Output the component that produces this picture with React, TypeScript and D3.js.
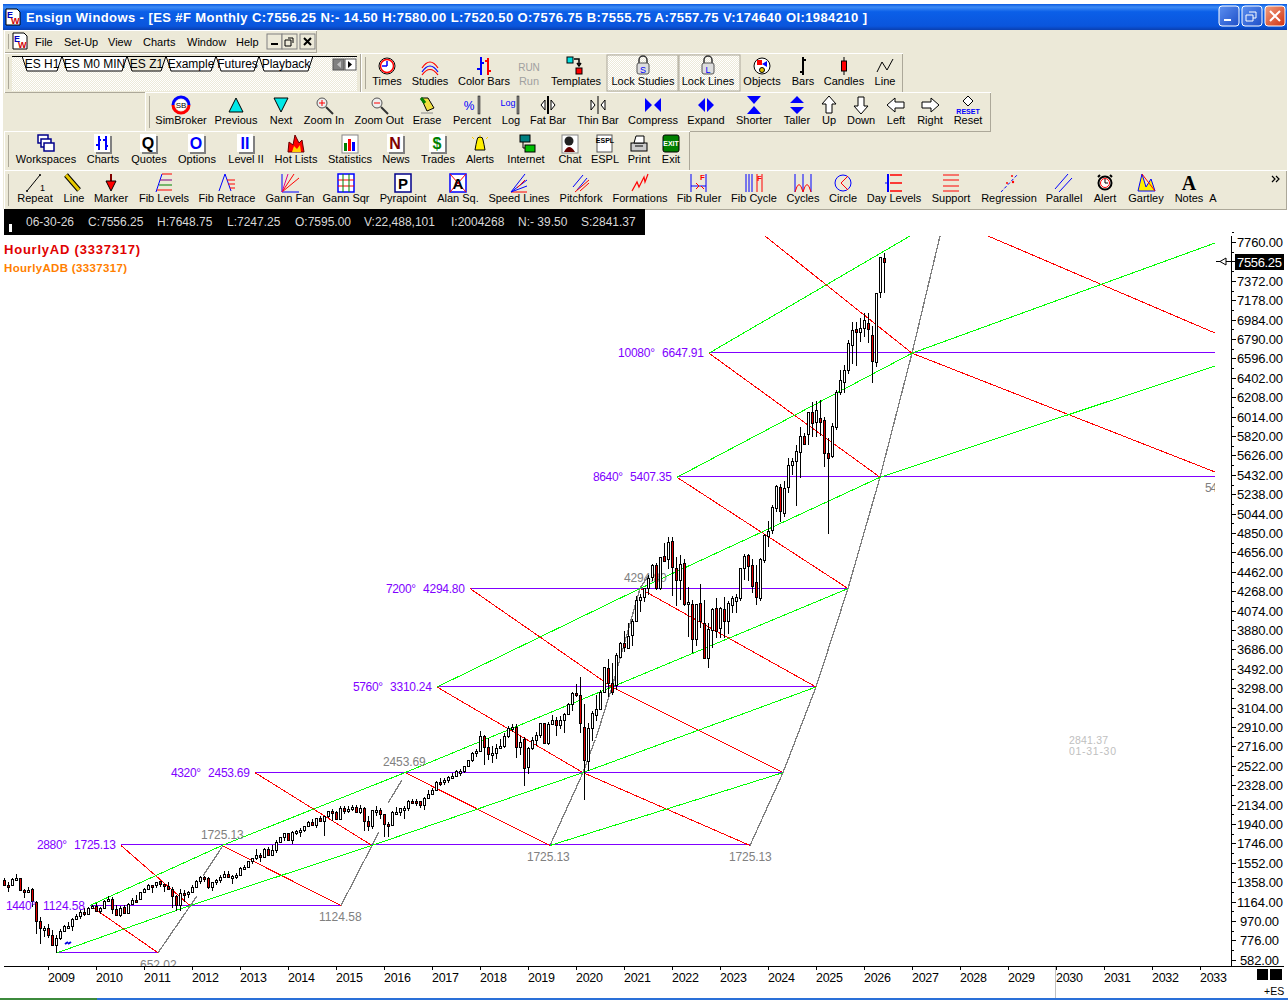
import * as d3 from "d3";
import React from "react";

// monthly bars [open, high, low, close], first bar is Feb 2008
const barStartMonth = -11; // months from Jan 2009
const monthlyBars: number[][] = [
    // 2008
    [1378, 1396, 1316, 1330], [1330, 1359, 1257, 1322], [1326, 1397, 1323, 1385], [1385, 1440, 1373, 1400],
    [1400, 1404, 1272, 1280], [1280, 1293, 1200, 1267], [1269, 1313, 1247, 1282], [1287, 1303, 1107, 1166],
    [1164, 1167, 839, 968], [968, 1007, 741, 896], [888, 917, 815, 903],
    // 2009
    [903, 944, 805, 825], [825, 875, 735, 735], [730, 832, 652, 797], [797, 888, 783, 872], [872, 930, 866, 919], [919, 956, 888, 919],
    [919, 996, 869, 987], [987, 1039, 978, 1020], [1020, 1080, 992, 1057], [1057, 1101, 1020, 1036], [1036, 1113, 1029, 1095], [1095, 1130, 1086, 1115],
    // 2010
    [1116, 1150, 1071, 1073], [1073, 1112, 1044, 1104], [1105, 1180, 1101, 1169], [1171, 1219, 1157, 1186], [1188, 1206, 1040, 1089], [1087, 1131, 1028, 1030],
    [1031, 1120, 1010, 1101], [1107, 1129, 1039, 1049], [1049, 1148, 1048, 1141], [1143, 1196, 1131, 1183], [1185, 1227, 1173, 1180], [1186, 1262, 1186, 1257],
    // 2011
    [1257, 1302, 1257, 1286], [1289, 1344, 1289, 1327], [1328, 1332, 1249, 1325], [1329, 1364, 1295, 1363], [1365, 1370, 1311, 1345], [1345, 1345, 1258, 1320],
    [1320, 1356, 1282, 1292], [1292, 1307, 1101, 1218], [1219, 1229, 1075, 1131], [1131, 1292, 1075, 1253], [1251, 1277, 1158, 1246], [1246, 1269, 1202, 1258],
    // 2012
    [1258, 1333, 1258, 1312], [1312, 1378, 1312, 1365], [1366, 1420, 1340, 1408], [1408, 1422, 1358, 1398], [1398, 1415, 1291, 1310], [1310, 1363, 1267, 1362],
    [1362, 1392, 1326, 1379], [1379, 1427, 1355, 1406], [1406, 1474, 1397, 1441], [1441, 1471, 1403, 1412], [1412, 1434, 1343, 1416], [1416, 1448, 1385, 1426],
    // 2013
    [1426, 1510, 1426, 1498], [1498, 1525, 1485, 1515], [1515, 1570, 1501, 1569], [1569, 1597, 1536, 1598], [1597, 1687, 1581, 1631], [1631, 1654, 1560, 1606],
    [1606, 1698, 1605, 1686], [1686, 1710, 1627, 1633], [1633, 1730, 1633, 1682], [1682, 1776, 1646, 1757], [1757, 1813, 1746, 1806], [1806, 1849, 1768, 1848],
    // 2014
    [1848, 1850, 1770, 1783], [1783, 1867, 1737, 1859], [1859, 1884, 1834, 1872], [1872, 1897, 1814, 1884], [1884, 1924, 1862, 1924], [1924, 1968, 1915, 1960],
    [1960, 1991, 1930, 1931], [1931, 2005, 1905, 2003], [2003, 2019, 1965, 1972], [1972, 2018, 1821, 2018], [2018, 2075, 2001, 2067], [2067, 2093, 1972, 2058],
    // 2015
    [2058, 2072, 1988, 1994], [1994, 2119, 1980, 2104], [2104, 2117, 2039, 2067], [2067, 2125, 2048, 2085], [2085, 2134, 2067, 2107], [2107, 2129, 2056, 2063],
    [2063, 2132, 2044, 2103], [2103, 2112, 1867, 1972], [1972, 2020, 1871, 1920], [1920, 2079, 1893, 2079], [2079, 2116, 2019, 2080], [2080, 2104, 1993, 2043],
    // 2016
    [2043, 2043, 1812, 1940], [1940, 1962, 1810, 1932], [1932, 2072, 1932, 2059], [2059, 2111, 2033, 2065], [2065, 2103, 2025, 2096], [2096, 2120, 1991, 2098],
    [2098, 2177, 2074, 2174], [2174, 2193, 2147, 2170], [2170, 2187, 2119, 2168], [2168, 2169, 2097, 2126], [2126, 2214, 2084, 2198], [2198, 2277, 2193, 2238],
    // 2017
    [2238, 2300, 2245, 2278], [2278, 2367, 2271, 2363], [2363, 2401, 2322, 2362], [2362, 2398, 2328, 2384], [2384, 2418, 2352, 2411], [2411, 2453, 2405, 2423],
    [2423, 2484, 2407, 2470], [2470, 2490, 2417, 2471], [2471, 2519, 2446, 2519], [2519, 2582, 2520, 2575], [2575, 2657, 2557, 2647], [2647, 2694, 2605, 2673],
    // 2018
    [2673, 2872, 2673, 2823], [2823, 2835, 2532, 2713], [2713, 2801, 2585, 2640], [2640, 2717, 2553, 2648], [2648, 2742, 2594, 2705], [2705, 2791, 2698, 2718],
    [2718, 2848, 2698, 2816], [2816, 2916, 2796, 2901], [2901, 2940, 2864, 2913], [2913, 2940, 2603, 2711], [2711, 2815, 2631, 2760], [2790, 2813, 2323, 2503],
    // 2019
    [2506, 2708, 2443, 2704], [2704, 2813, 2681, 2784], [2784, 2860, 2722, 2834], [2834, 2949, 2800, 2945], [2945, 2954, 2750, 2752], [2752, 2964, 2729, 2941],
    [2941, 3027, 2952, 2980], [2980, 3013, 2822, 2926], [2926, 3021, 2891, 2976], [2976, 3050, 2855, 3037], [3037, 3154, 3037, 3140], [3140, 3260, 3070, 3250],
    // 2020
    [3253, 3337, 3214, 3230], [3230, 3413, 2855, 2953], [2910, 3136, 2180, 2580], [2570, 2954, 2470, 2900], [2900, 3068, 2766, 3050], [3030, 3233, 2965, 3095],
    [3090, 3279, 3085, 3263], [3263, 3514, 3260, 3513], [3503, 3588, 3209, 3350], [3350, 3550, 3233, 3263], [3330, 3646, 3279, 3630], [3613, 3760, 3613, 3753],
    // 2021
    [3753, 3870, 3662, 3715], [3700, 3950, 3700, 3820], [3830, 3994, 3723, 3973], [3970, 4218, 3970, 4180], [4180, 4238, 4056, 4210], [4207, 4302, 4164, 4297],
    [4305, 4429, 4233, 4400], [4410, 4545, 4367, 4530], [4530, 4546, 4280, 4300], [4300, 4608, 4278, 4610], [4620, 4750, 4560, 4570], [4590, 4808, 4495, 4763],
    // 2022
    [4770, 4813, 4222, 4510], [4500, 4613, 4120, 4380], [4380, 4630, 4180, 4540], [4550, 4593, 4125, 4140], [4140, 4307, 3810, 4160], [4138, 4180, 3650, 3790],
    [3790, 4140, 3721, 4137], [4150, 4340, 3900, 3973], [3953, 4180, 3600, 3603], [3600, 3950, 3503, 3890], [3880, 4100, 3704, 4090], [4100, 4200, 3800, 3873],
    // 2023
    [3900, 4110, 3800, 4100], [4090, 4213, 3800, 3973], [3973, 4170, 3840, 4153], [4130, 4220, 4048, 4200], [4175, 4240, 4050, 4215], [4200, 4500, 4166, 4503],
    [4503, 4640, 4385, 4623], [4630, 4640, 4370, 4523], [4530, 4590, 4250, 4323], [4360, 4530, 4130, 4213], [4203, 4600, 4167, 4590], [4580, 4840, 4546, 4830],
    // 2024
    [4823, 4970, 4710, 4873], [4880, 5130, 4845, 5113], [5103, 5330, 5057, 5320], [5313, 5340, 4963, 5073], [5053, 5370, 5012, 5300], [5310, 5600, 5250, 5530],
    [5530, 5600, 5430, 5570], [5573, 5730, 5120, 5673], [5663, 5913, 5400, 5820], [5820, 5850, 5730, 5740], [5840, 6060, 5730, 6060], [6060, 6163, 5813, 5950],
    // 2025
    [5960, 6170, 5813, 6080], [6000, 6180, 5820, 5965], [5980, 6013, 5513, 5650], [5650, 5800, 4840, 5600], [5620, 5950, 5600, 5923], [5910, 6280, 5880, 6263],
    [6260, 6480, 6230, 6380], [6363, 6530, 6250, 6480], [6480, 6780, 6440, 6750], [6730, 6963, 6540, 6880], [6890, 6963, 6520, 6865], [6860, 7000, 6760, 6900],
    // 2026
    [6900, 7050, 6813, 6980], [6950, 7050, 6753, 6893], [6830, 6920, 6353, 6573], [6563, 7253, 6510, 7253], [7260, 7610, 7203, 7610], [7595, 7648.75, 7247.25, 7556.25],
];

// price axis labels and year axis labels
const priceTicks = d3.range(582, 7761, 194);
const yearTicks = d3.range(2009, 2034);

// gann square levels, [degree text, price, first month, last month]
const gannDegrees = ["", "1440°", "2880°", "4320°", "5760°", "7200°", "8640°", "10080°"];
const gannPrices = [652.02, 1124.58, 1725.13, 2453.69, 3310.24, 4294.8, 5407.35, 6647.91];
const gannStartMonths = [2.25, 10.5, 18.25, 51.75, 97.25, 105.5, 157.25, 165.25];
const gannEndMonths = [27.5, 73.25, 175.5, 183.75, 192, 200, 291.75, 291.75];

// angle lines, each one as [month, price] vertices
const greenLines: number[][][] = [
    [[2.25, 652], [35.5, 1124.6], [81, 1725.1], [133.75, 2453.7], [192, 3310.2]],
    [[10.5, 1124.6], [43.5, 1725.1], [89.25, 2453.7], [141, 3310.2], [200, 4294.8]],
    [[97.25, 3310.2], [148, 4294.8], [208, 5407.3], [291.75, 6520]],
    [[125.5, 1725.1], [183.75, 2453.7]],
    [[157.25, 5407.3], [216, 6647.9], [291.75, 7750]],
    [[165.25, 6647.9], [215.5, 7820]],
];
const redLines: number[][][] = [
    [[10.5, 1124.6], [27.5, 652]],
    [[18.25, 1725.1], [35.5, 1124.6]],
    [[43.5, 1725.1], [73.25, 1124.6]],
    [[51.75, 2453.7], [81, 1725.1]],
    [[89.25, 2453.7], [125.5, 1725.1]],
    [[97.25, 3310.2], [133.75, 2453.7]],
    [[133.75, 2453.7], [175.5, 1725.1]],
    [[141, 3310.2], [183.75, 2453.7]],
    [[105.5, 4294.8], [141, 3310.2]],
    [[148, 4294.8], [192, 3310.2]],
    [[157.25, 5407.3], [200, 4294.8]],
    [[165.25, 6647.9], [208, 5407.3]],
    [[179.25, 7820], [216, 6647.9]],
    [[216, 6647.9], [291.75, 5460]],
    [[235, 7820], [291.75, 6850]],
];
const greyLines: number[][][] = [
    [[27.5, 652], [37.25, 1220]],
    [[38.75, 1420], [43.75, 1725]],
    [[73.25, 1124.6], [81, 1725.1], [82.75, 1860]],
    [[85, 2150], [88.5, 2380]],
    [[125.5, 1725.1], [133.75, 2453.7], [136.75, 2780]],
    [[137, 2800], [141, 3310.2], [148, 4294.8], [150, 4420]],
    [[175.5, 1725.1], [183.75, 2453.7], [192, 3310.2], [200, 4294.8], [208, 5407.3], [216, 6647.9], [223, 7820]],
];

// grey notes on the chart, [text, month, price]
const greyLabels: [string, number, number][] = [
    ["652.02", 23, 490], ["1124.58", 67.75, 970], ["1725.13", 38.25, 1790], ["2453.69", 83.75, 2520],
    ["4294.80", 144, 4360], ["1725.13", 119.75, 1570], ["1725.13", 170.25, 1570], ["54", 289.25, 5260],
];

const infoBar: [string, number][] = [
    ["06-30-26", 26], ["C:7556.25", 88], ["H:7648.75", 157], ["L:7247.25", 227], ["O:7595.00", 295],
    ["V:22,488,101", 364], ["I:2004268", 451], ["N:- 39.50", 518], ["S:2841.37", 581],
];

const menuItems: [string, number][] = [["File", 35], ["Set-Up", 64], ["View", 108], ["Charts", 143], ["Window", 187], ["Help", 236]];
const tabs: [string, number, number][] = [
    ["ES H1", 22, 62], ["ES M0 MIN", 62, 127], ["ES Z1", 127, 166], ["Example", 166, 216], ["Futures", 216, 259], ["Playback", 259, 313],
];

const toolbarRows: { cy: number; labelY: number; items: [string, number, string][] }[] = [
    { cy: 66, labelY: 85, items: [["Times", 387, "times"], ["Studies", 430, "studies"], ["Color Bars", 484, "colorbars"], ["Run", 529, "run"], ["Templates", 576, "templates"], ["Lock Studies", 643, "lockS"], ["Lock Lines", 708, "lockL"], ["Objects", 762, "objects"], ["Bars", 803, "bars"], ["Candles", 844, "candles"], ["Line", 885, "line"]] },
    { cy: 105, labelY: 124, items: [["SimBroker", 181, "sim"], ["Previous", 236, "prev"], ["Next", 281, "next"], ["Zoom In", 324, "zoomIn"], ["Zoom Out", 379, "zoomOut"], ["Erase", 427, "erase"], ["Percent", 472, "percent"], ["Log", 511, "log"], ["Fat Bar", 548, "fat"], ["Thin Bar", 598, "thin"], ["Compress", 653, "compress"], ["Expand", 706, "expand"], ["Shorter", 754, "shorter"], ["Taller", 797, "taller"], ["Up", 829, "up"], ["Down", 861, "down"], ["Left", 896, "left"], ["Right", 930, "right"], ["Reset", 968, "reset"]] },
    { cy: 144, labelY: 163, items: [["Workspaces", 46, "work"], ["Charts", 103, "charts"], ["Quotes", 149, "quotes"], ["Options", 197, "options"], ["Level II", 246, "level2"], ["Hot Lists", 296, "hot"], ["Statistics", 350, "stats"], ["News", 396, "news"], ["Trades", 438, "trades"], ["Alerts", 480, "alerts"], ["Internet", 526, "internet"], ["Chat", 570, "chat"], ["ESPL", 605, "espl"], ["Print", 639, "print"], ["Exit", 671, "exit"]] },
    { cy: 183, labelY: 202, items: [["Repeat", 35, "repeat"], ["Line", 74, "pencil"], ["Marker", 111, "marker"], ["Fib Levels", 164, "fibLevels"], ["Fib Retrace", 227, "fibRetrace"], ["Gann Fan", 290, "gannFan"], ["Gann Sqr", 346, "gannSqr"], ["Pyrapoint", 403, "pyra"], ["Alan Sq.", 458, "alan"], ["Speed Lines", 519, "speed"], ["Pitchfork", 581, "pitch"], ["Formations", 640, "forms"], ["Fib Ruler", 699, "fibRuler"], ["Fib Cycle", 754, "fibCycle"], ["Cycles", 803, "cycles"], ["Circle", 843, "circle"], ["Day Levels", 894, "dayLevels"], ["Support", 951, "support"], ["Regression", 1009, "regress"], ["Parallel", 1064, "parallel"], ["Alert", 1105, "clock"], ["Gartley", 1146, "gartley"], ["Notes", 1189, "notes"]] },
];

const UI = "'Liberation Sans', sans-serif";
const FACE = "#ECE9D8";
const BLUE = "#0000FF";
const RED = "#FF0000";

const x = d3.scaleLinear().domain([0, 1]).range([48, 52]);
const y = d3.scaleLinear().domain([582, 7760]).range([959.8, 242]);
const pathOf = d3.line<number[]>().x((d) => x(d[0])).y((d) => y(d[1]));

function letterBox(ch: string, color: string) {
    return (
        <g>
            <rect x={-7} y={-8} width={16} height={18} fill="#808080" />
            <rect x={-9} y={-10} width={16} height={18} fill="#fff" />
            <text x={-1} y={5} textAnchor="middle" fontFamily={UI} fontWeight="bold" fontSize={16} fill={color}>{ch}</text>
        </g>
    );
}

function arrow(rot: number) {
    return <path d="M0-9 L7-1 L3-1 L3 8 L-3 8 L-3-1 L-7-1 Z" transform={`rotate(${rot})`} fill="#fff" stroke="#000" />;
}

function lock(ch: string) {
    return (
        <g>
            <path d="M-4-3 V-6 A4 4 0 0 1 4-6 V-3" fill="none" stroke="#333" strokeWidth={1.5} />
            <rect x={-6} y={-3} width={12} height={11} rx={2} fill="#ddd" stroke="#555" />
            <text y={7} textAnchor="middle" fontFamily={UI} fontSize={9} fill={BLUE}>{ch}</text>
        </g>
    );
}

const icons: Record<string, () => React.ReactNode> = {
    times: () => <g><circle r={8} fill="#fff" stroke="#000" /><circle r={6.5} fill="none" stroke={RED} strokeWidth={1.5} /><path d="M0 0 V-5 M0 0 H-5" stroke={BLUE} strokeWidth={1.5} /></g>,
    studies: () => <g fill="none" strokeWidth={1.2}><path d="M-8 2 Q0-10 8 2" stroke={RED} /><path d="M-8 6 Q0-6 8 6" stroke={BLUE} /><path d="M-8 9 Q0-2 8 9" stroke={RED} /></g>,
    colorbars: () => <g strokeWidth={2}><path d="M-3-9 V9 M-7 3 H-3 M-3-3 H0" stroke={BLUE} /><path d="M4-8 V9 M1-5 H4 M4 5 H7" stroke={RED} /></g>,
    run: () => <text y={5} textAnchor="middle" fontFamily={UI} fontSize={10} fill="#a0a0a0">RUN</text>,
    templates: () => <g><rect x={-9} y={-9} width={6} height={6} fill="#00E0E0" stroke="#000" /><path d="M-2-7 H3 V-2 M1-3 L3 0 L5-3" fill="none" stroke="#000" strokeWidth={1.5} /><rect x={0} y={2} width={6} height={6} fill={RED} stroke="#000" /></g>,
    lockS: () => lock("S"),
    lockL: () => lock("L"),
    objects: () => <g><circle r={8} fill="#fff" stroke="#000" /><rect x={-5} y={-6} width={5} height={5} fill={RED} /><path d="M5-5 L0-2 L5 1 Z" fill={BLUE} /><circle cx={0} cy={4} r={2.5} fill="#E0C000" stroke="#000" /></g>,
    bars: () => <path d="M0-9 V9 M0-6 H3 M0 6 H-3" stroke="#000" strokeWidth={2} fill="none" />,
    candles: () => <g><path d="M0-9 V9" stroke="#000" /><rect x={-2.5} y={-5} width={5} height={10} fill={RED} stroke="#000" /></g>,
    line: () => <path d="M-8 6 L-3-4 L2 4 L8-7" fill="none" stroke="#000" />,
    sim: () => <g><path d="M-8 0 A8 8 0 0 1 8 0" fill="none" stroke={BLUE} strokeWidth={3} /><path d="M8 0 A8 8 0 0 1 -8 0" fill="none" stroke={RED} strokeWidth={3} /><circle r={5.5} fill="#fff" /><text y={3} textAnchor="middle" fontFamily={UI} fontSize={8}>SB</text></g>,
    prev: () => <path d="M0-7 L7 7 L-7 7 Z" fill="#00E8E8" stroke="#000" />,
    next: () => <path d="M0 7 L7-7 L-7-7 Z" fill="#00E8E8" stroke="#000" />,
    zoomIn: () => <g><path d="M2 2 L9 9" stroke="#333" strokeWidth={2} /><circle cx={-2} cy={-2} r={5} fill="#eee" stroke="#555" /><path d="M-5-2 H1 M-2-5 V1" stroke={RED} /></g>,
    zoomOut: () => <g><path d="M2 2 L9 9" stroke="#333" strokeWidth={2} /><circle cx={-2} cy={-2} r={5} fill="#eee" stroke="#555" /><path d="M-5-2 H1" stroke={RED} /></g>,
    erase: () => <g><path d="M-6-7 L1-7 L7 3 L0 6 Z" fill="#F0E040" stroke="#000" /><path d="M-6-7 L-2-2" stroke="#008000" strokeWidth={3} /><path d="M-6 8 H6" stroke="#888" /></g>,
    percent: () => <g><text x={-3} y={5} textAnchor="middle" fontFamily={UI} fontSize={12} fill={BLUE}>%</text><rect x={6} y={-9} width={2} height={18} fill="#888" stroke="#000" strokeWidth={0.5} /></g>,
    log: () => <g><text x={-3} y={1} textAnchor="middle" fontFamily={UI} fontSize={9} fill={BLUE}>Log</text><rect x={6} y={-9} width={2} height={18} fill="#888" stroke="#000" strokeWidth={0.5} /></g>,
    fat: () => <g><rect x={-1} y={-9} width={2} height={18} fill="#000" /><path d="M-3-5 L-7 0 L-3 5 Z M3-5 L7 0 L3 5 Z" fill="#fff" stroke="#000" /></g>,
    thin: () => <g><rect x={-0.5} y={-9} width={1} height={18} fill="#000" /><path d="M-7-5 L-3 0 L-7 5 Z M7-5 L3 0 L7 5 Z" fill="#fff" stroke="#000" /></g>,
    compress: () => <path d="M-8-7 L-1 0 L-8 7 Z M8-7 L1 0 L8 7 Z" fill={BLUE} />,
    expand: () => <path d="M-1-7 L-8 0 L-1 7 Z M1-7 L8 0 L1 7 Z" fill={BLUE} />,
    shorter: () => <path d="M-7-9 H7 L0-1 Z M-7 9 H7 L0 1 Z" fill={BLUE} />,
    taller: () => <path d="M-7-2 H7 L0-9 Z M-7 2 H7 L0 9 Z" fill={BLUE} />,
    up: () => arrow(0),
    down: () => arrow(180),
    left: () => arrow(-90),
    right: () => arrow(90),
    reset: () => <g><path d="M0-9 L5-4 L0 1 L-5-4 Z" fill="#fff" stroke="#000" /><text y={9} textAnchor="middle" fontFamily={UI} fontWeight="bold" fontSize={7} fill={BLUE}>RESET</text></g>,
    work: () => <g fill="#fff" stroke="#00008B" strokeWidth={1.5}><rect x={-8} y={-9} width={10} height={8} /><rect x={-5} y={-5} width={10} height={8} /><rect x={-2} y={-1} width={10} height={8} /></g>,
    charts: () => <g><rect x={-7} y={-8} width={16} height={18} fill="#808080" /><rect x={-9} y={-10} width={16} height={18} fill="#fff" /><path d="M-4-8 V6 M-7 1 H-4 M-4-4 H-2 M3-8 V6 M0-4 H3 M3 2 H5" stroke={BLUE} strokeWidth={2} /></g>,
    quotes: () => letterBox("Q", "#000"),
    options: () => letterBox("O", BLUE),
    level2: () => letterBox("II", BLUE),
    hot: () => <g><path d="M-8 8 L-7-2 L-3 1 L-1-9 L3-1 L6-4 L8 8 Z" fill={RED} stroke="#600" /><path d="M-4 8 L-2 2 L1 5 L4 1 L5 8 Z" fill="#FFD000" /></g>,
    stats: () => <g><rect x={-8} y={-9} width={16} height={18} fill="#fff" stroke="#888" /><rect x={-6} y={-1} width={3} height={8} fill="#008000" /><rect x={-2} y={-5} width={3} height={12} fill={RED} /><rect x={2} y={-2} width={3} height={9} fill={BLUE} /></g>,
    news: () => letterBox("N", "#800000"),
    trades: () => letterBox("$", "#008000"),
    alerts: () => <g><path d="M-5 6 Q-4 0-3-4 A3 3 0 0 1 3-4 Q4 0 5 6 Z" fill="#FFF000" stroke="#000" /><path d="M-8-7 L-6-5 M8-7 L6-5 M0-9 V-7" stroke="#FFD000" /></g>,
    internet: () => <g><rect x={-6} y={-9} width={10} height={7} fill="#008080" stroke="#000" /><rect x={-1} y={1} width={10} height={7} fill="#00C000" stroke="#000" /><path d="M-3-2 V4 H-1" stroke="#000" fill="none" /></g>,
    chat: () => <g><rect x={-8} y={-9} width={16} height={18} fill="#fff" stroke="#888" /><circle cx={-1} cy={-3} r={4.5} fill="#222" /><path d="M-6 8 Q-1-2 5 8 Z" fill="#600" /></g>,
    espl: () => <g><rect x={-8} y={-9} width={15} height={17} fill="#fff" stroke="#555" /><text x={0} y={-1} textAnchor="middle" fontFamily={UI} fontSize={7} fontWeight="bold">ESPL</text></g>,
    print: () => <g><rect x={-8} y={-1} width={16} height={8} fill="#ccc" stroke="#000" /><path d="M-5-1 L-3-8 H5 V-1 Z" fill="#fff" stroke="#000" /><path d="M-4 2 H4" stroke="#000" /></g>,
    exit: () => <g><rect x={-8} y={-9} width={16} height={17} rx={2} fill="#008000" stroke="#000" /><text y={2} textAnchor="middle" fontFamily={UI} fontSize={7} fontWeight="bold" fill="#fff">EXIT</text></g>,
    repeat: () => <g><path d="M-8 8 L5-8" stroke="#000" /><circle cx={-8} cy={8} r={1} /><circle cx={5} cy={-8} r={1} /><text x={5} y={8} fontFamily={UI} fontSize={9}>1</text></g>,
    pencil: () => <g><path d="M-8-8 L5 7" stroke="#000" strokeWidth={5} /><path d="M-8-8 L5 7" stroke="#E8C800" strokeWidth={3} /></g>,
    marker: () => <g><path d="M0-9 V0" stroke="#800000" strokeWidth={2} /><path d="M-5-2 H5 L0 8 Z" fill={RED} stroke="#000" /></g>,
    fibLevels: () => <g strokeWidth={1}><path d="M-8 9 L-2-9" stroke={BLUE} /><path d="M-2-9 H8" stroke={RED} /><path d="M-4-3 H8" stroke="#800080" /><path d="M-5 2 H8" stroke="#008000" /><path d="M-7 7 H8" stroke={RED} /></g>,
    fibRetrace: () => <g><path d="M-8 8 L-2-9 L4 8" fill="none" stroke={BLUE} /><path d="M0-3 H8 M1 1 H8 M3 5 H8" stroke={RED} /></g>,
    gannFan: () => <g fill="none"><path d="M-8 9 H9 M-8 9 V-9" stroke={BLUE} /><path d="M-8 9 L9-5 M-8 9 L4-9" stroke={RED} /><path d="M-8 9 L-2-9" stroke="#E00090" /></g>,
    gannSqr: () => <g><rect x={-8} y={-9} width={16} height={18} fill="#fff" stroke={BLUE} strokeWidth={1.5} /><path d="M-8-3 H8 M-8 3 H8" stroke={RED} /><path d="M-3-9 V9 M3-9 V9" stroke="#008000" /></g>,
    pyra: () => <g><rect x={-8} y={-9} width={16} height={18} fill="#fff" stroke="#00008B" strokeWidth={1.5} /><text y={6} textAnchor="middle" fontFamily={UI} fontSize={15} fontWeight="bold">P</text></g>,
    alan: () => <g><rect x={-8} y={-9} width={16} height={18} fill="#fff" stroke={BLUE} strokeWidth={1.5} /><path d="M-8-9 L8 9 M8-9 L-8 9" stroke={RED} /><text y={6} textAnchor="middle" fontFamily={UI} fontSize={15} fontWeight="bold">A</text></g>,
    speed: () => <g fill="none"><path d="M-8 9 H8" stroke={RED} /><path d="M-8 9 L6-9 M-8 9 L8-3 M-8 9 L8 3" stroke={BLUE} /><path d="M-2 5 L6-3" stroke={RED} /></g>,
    pitch: () => <g fill="none"><path d="M-8 4 L2-8 M-4 7 L6-5" stroke={BLUE} /><path d="M-6 9 L8-3 M-1 8 L8 0" stroke={RED} /></g>,
    forms: () => <path d="M-8 8 L-3-1 L-1 4 L4-6 L5-1 L8-9" fill="none" stroke={RED} strokeWidth={1.2} />,
    fibRuler: () => <g fill="none"><path d="M-8-9 V9 M7-9 V9 M-8 3 H7" stroke={BLUE} /><path d="M-3 0 L0 3 L-3 6 M2 3 L5 6" stroke={RED} /><text x={1} y={-3} fontFamily={UI} fontSize={8} fontWeight="bold" fill={RED}>F</text></g>,
    fibCycle: () => <g fill="none"><path d="M-8-9 V9 M-5-9 V9 M-2-9 V9" stroke={BLUE} /><path d="M3-9 V9 M8-9 V9" stroke={RED} /><text x={3} y={-2} fontFamily={UI} fontSize={8} fontWeight="bold" fill={RED}>F</text></g>,
    cycles: () => <g fill="none"><path d="M-8-9 V9 M0-9 V9 M8-9 V9" stroke={BLUE} /><path d="M-8 9 Q-4-6 0 9 Q4-6 8 9" stroke={RED} /></g>,
    circle: () => <g fill="none"><circle r={8} stroke={BLUE} /><path d="M5-7 L-2 0 L5 7" stroke={RED} /></g>,
    dayLevels: () => <g><path d="M-6-9 V9" stroke={BLUE} strokeWidth={2} /><path d="M-9 0 H-6" stroke={BLUE} /><path d="M-4-8 H8 M-4 0 H8 M-4 8 H8" stroke={RED} strokeWidth={1.5} /></g>,
    support: () => <path d="M-8-8 H8 M-8-3 H8 M-8 3 H8 M-8 8 H8" fill="none" stroke={RED} strokeWidth={1} />,
    regress: () => <g><path d="M-8 9 L9-9" stroke={BLUE} strokeDasharray="3 2" /><circle cx={-2} cy={0} r={1} fill={RED} /><circle cx={4} cy={-1} r={1.2} fill={RED} /><circle cx={3} cy={-7} r={1} fill={RED} /></g>,
    parallel: () => <path d="M-9 6 L4-9 M-5 9 L8-5" fill="none" stroke={BLUE} />,
    clock: () => <g><path d="M-5-8 L-7-6 M5-8 L7-6" stroke="#000" strokeWidth={2} /><circle r={6.5} fill="#fff" stroke="#000" strokeWidth={2} /><circle r={4.5} fill="none" stroke={RED} /><path d="M0 0 V-4 M0 0 H3" stroke="#000" /></g>,
    gartley: () => <g><path d="M-8 8 L-4-9 L0 4 L5-4 L9 8 Z" fill="#FFF000" stroke={BLUE} /><path d="M-4-9 L9 8" stroke={RED} /></g>,
    notes: () => <text y={7} textAnchor="middle" fontFamily="'Liberation Serif', serif" fontWeight="bold" fontSize={20}>A</text>,
};

// raised toolbar band, with the little grip at its left end
function Panel({ x0, y0, x1, y1, grip = true }: { x0: number; y0: number; x1: number; y1: number; grip?: boolean }) {
    return (
        <g shapeRendering="crispEdges">
            <path d={`M${x0}.5 ${y1}.5 V${y0}.5 H${x1}.5`} fill="none" stroke="#fff" />
            <path d={`M${x0}.5 ${y1}.5 H${x1}.5 V${y0}.5`} fill="none" stroke="#ACA899" />
            {grip && <path d={`M${x0 + 4}.5 ${y0 + 4} V${y1 - 3}`} stroke="#ACA899" />}
        </g>
    );
}

function EwIcon({ px, py }: { px: number; py: number }) {
    return (
        <g transform={`translate(${px},${py})`}>
            <path d="M0 0 H11 L14 3 V16 H0 Z" fill="#fff" stroke="#000" />
            <text x={1} y={9} fontFamily={UI} fontWeight="bold" fontSize={9} fill="#0000C0">E</text>
            <text x={5} y={15} fontFamily={UI} fontWeight="bold" fontSize={9} fill="#D00000">W</text>
        </g>
    );
}

function Candles() {
    return (
        <g shapeRendering="crispEdges">
            {monthlyBars.map((bar, i) => {
                const [o, h, l, c] = bar;
                const cx = Math.round(x(barStartMonth + i));
                const top = Math.round(y(Math.max(o, c)));
                const bottom = Math.max(Math.round(y(Math.min(o, c))), top + 2);
                return (
                    <g key={i}>
                        <rect x={cx} y={Math.round(y(h))} width={1} height={Math.max(Math.round(y(l)) - Math.round(y(h)), 1)} fill="#000" />
                        <rect x={cx - 1} y={top} width={3} height={bottom - top + 1} fill="#000" />
                        <rect x={cx} y={top + 1} width={1} height={Math.max(bottom - top - 1, 1)} fill={c < o ? "#E00000" : "#fff"} />
                    </g>
                );
            })}
        </g>
    );
}

export default function App() {
    return (
        <svg width={1288} height={1000} style={{ position: "absolute", left: 0, top: 0, display: "block", background: "#fff" }}>
            <defs>
                <linearGradient id="title" x1="0" y1="0" x2="0" y2="1">
                    <stop offset="0" stopColor="#0A5AE0" />
                    <stop offset="0.12" stopColor="#3D8BF5" />
                    <stop offset="0.3" stopColor="#0B5FE8" />
                    <stop offset="0.85" stopColor="#0A55DC" />
                    <stop offset="1" stopColor="#0A3FB0" />
                </linearGradient>
                <linearGradient id="btn" x1="0" y1="0" x2="1" y2="1">
                    <stop offset="0" stopColor="#5C8FF0" />
                    <stop offset="1" stopColor="#1E4FC8" />
                </linearGradient>
                <linearGradient id="btnRed" x1="0" y1="0" x2="1" y2="1">
                    <stop offset="0" stopColor="#F0A080" />
                    <stop offset="1" stopColor="#D03010" />
                </linearGradient>
                <pattern id="dither" width={2} height={2} patternUnits="userSpaceOnUse">
                    <rect width={2} height={2} fill={FACE} />
                    <rect width={1} height={1} fill="#fff" />
                    <rect x={1} y={1} width={1} height={1} fill="#fff" />
                </pattern>
                <clipPath id="plot"><rect x={3} y={236} width={1212} height={730} /></clipPath>
            </defs>

            {/* window title */}
            <rect x={3} y={4} width={1284} height={26} fill="url(#title)" />
            <EwIcon px={6} py={9} />
            <text x={26} y={22} textLength={841} lengthAdjust="spacing" fontFamily={UI} fontWeight="bold" fontSize={13} fill="#fff">
                Ensign Windows - [ES #F Monthly C:7556.25 N:- 14.50 H:7580.00 L:7520.50 O:7576.75 B:7555.75 A:7557.75 V:174640 OI:1984210 ]
            </text>
            <rect x={1219} y={6} width={20} height={20} rx={3} fill="url(#btn)" stroke="#fff" />
            <rect x={1224} y={19} width={7} height={2} fill="#fff" />
            <rect x={1242} y={6} width={20} height={20} rx={3} fill="url(#btn)" stroke="#fff" />
            <path d="M1249 12 h7 v6 h-3 M1246 15 h7 v6 h-7 z" fill="none" stroke="#fff" />
            <rect x={1265} y={6} width={20} height={20} rx={3} fill="url(#btnRed)" stroke="#fff" />
            <path d="M1270 11 L1280 21 M1280 11 L1270 21" stroke="#fff" strokeWidth={2} />

            {/* toolbars */}
            <rect x={3} y={30} width={1284} height={179} fill={FACE} />
            <Panel x0={4} y0={30} x1={316} y1={52} />
            <EwIcon px={13} py={33} />
            {menuItems.map(([label, px]) => (
                <text key={label} x={px} y={46} fontFamily={UI} fontSize={11} fill="#000">{label}</text>
            ))}
            {[267, 282, 300].map((px, i) => (
                <g key={px}>
                    <rect x={px} y={34} width={15} height={15} fill={FACE} stroke="#808080" />
                    {i === 0 && <rect x={px + 4} y={43} width={7} height={2} />}
                    {i === 1 && <path d={`M${px + 6} 38 h5 v5 M${px + 3} 40 h6 v6 h-6 z`} fill="none" stroke="#000" />}
                    {i === 2 && <path d={`M${px + 4} 38 L${px + 11} 45 M${px + 11} 38 L${px + 4} 45`} stroke="#000" strokeWidth={2} />}
                </g>
            ))}

            <Panel x0={4} y0={53} x1={360} y1={92} />
            <rect x={12} y={56} width={345} height={35} fill="url(#dither)" />
            {tabs.map(([label, a, b]) => (
                <g key={label}>
                    <path d={`M${a} 56 L${a + 5} 71 H${b - 5} L${b} 56`} fill={label === "ES Z1" ? FACE : "#fff"} stroke="#000" />
                    <text x={(a + b) / 2} y={68} textAnchor="middle" fontFamily={UI} fontSize={12} fill="#000">{label}</text>
                </g>
            ))}
            <path d="M12 56.5 H357" stroke="#000" shapeRendering="crispEdges" />
            <rect x={333} y={59} width={11} height={11} fill="#808080" stroke="#555" />
            <rect x={345} y={59} width={11} height={11} fill="#fff" stroke="#555" />
            <path d="M341 61 l-4 3.5 4 3.5 z" fill="#c0c0c0" />
            <path d="M348 61 l4 3.5 -4 3.5 z" fill="#000" />

            <Panel x0={361} y0={53} x1={902} y1={92} />
            <rect x={607} y={55} width={71} height={36} fill="url(#dither)" stroke="#ACA899" />
            <rect x={679} y={55} width={61} height={36} fill="url(#dither)" stroke="#ACA899" />
            <Panel x0={145} y0={92} x1={990} y1={131} />
            <Panel x0={4} y0={131} x1={689} y1={170} />
            <Panel x0={4} y0={170} x1={1286} y1={209} />
            {toolbarRows.map((row) =>
                row.items.map(([label, cx, icon]) => (
                    <g key={label + cx}>
                        <g transform={`translate(${cx},${row.cy})`}>{icons[icon]()}</g>
                        <text x={cx} y={row.labelY} textAnchor="middle" fontFamily={UI} fontSize={11} fill={label === "Run" ? "#a0a0a0" : "#000"}>{label}</text>
                    </g>
                ))
            )}
            <text x={1213} y={202} textAnchor="middle" fontFamily={UI} fontSize={11}>A</text>
            <path d="M1272 176 l3 3 -3 3 M1276 176 l3 3 -3 3" fill="none" stroke="#000" strokeWidth={1.2} />

            {/* quote strip */}
            <rect x={4} y={209} width={641} height={26} fill="#000" />
            <rect x={9} y={224} width={3} height={8} fill="#fff" />
            {infoBar.map(([label, px]) => (
                <text key={label} x={px} y={226} fontFamily={UI} fontSize={12} fill="#D8D8D8">{label}</text>
            ))}

            <text x={4} y={254} textLength={136} lengthAdjust="spacing" fontFamily={UI} fontWeight="bold" fontSize={13} fill="#E00000">HourlyAD (3337317)</text>
            <text x={4} y={272} textLength={123} lengthAdjust="spacing" fontFamily={UI} fontWeight="bold" fontSize={11.5} fill="#FF7F00">HourlyADB (3337317)</text>

            {/* gann square */}
            <g clipPath="url(#plot)" shapeRendering="crispEdges" fill="none">
                {greyLines.map((d, i) => <path key={i} d={pathOf(d) as string} stroke="#808080" strokeWidth={1.3} />)}
                {gannPrices.map((p, i) => (
                    <line key={p} x1={x(gannStartMonths[i])} x2={x(gannEndMonths[i])} y1={Math.round(y(p)) - 0.5} y2={Math.round(y(p)) - 0.5} stroke="#8000FF" />
                ))}
                {redLines.map((d, i) => <path key={i} d={pathOf(d) as string} stroke="#FF0000" />)}
                {greenLines.map((d, i) => <path key={i} d={pathOf(d) as string} stroke="#00FF00" />)}
            </g>
            <g clipPath="url(#plot)">
                {greyLabels.map(([label, m, p], i) => (
                    <text key={i} x={x(m)} y={y(p)} textLength={label.length * 6.1} lengthAdjust="spacing" fontFamily={UI} fontSize={12} fill="#808080">{label}</text>
                ))}
            </g>
            <Candles />
            {gannDegrees.map((deg, i) => {
                if (!deg) return null;
                const right = x(gannStartMonths[i]) - 5;
                const base = Math.round(y(gannPrices[i])) + 4;
                const degWidth = deg.length > 5 ? 37 : 30;
                return (
                    <g key={deg} fontFamily={UI} fontSize={12} fill="#8000FF">
                        <text x={right - 42 - 7 - degWidth} y={base} textLength={degWidth} lengthAdjust="spacing">{deg}</text>
                        <text x={right - 42} y={base} textLength={42} lengthAdjust="spacing">{gannPrices[i].toFixed(2)}</text>
                    </g>
                );
            })}
            <path d="M65 944 L68 942 M68 944 L71 942" stroke="#0000E0" strokeWidth={2} />
            <text x={1069} y={744} textLength={39} lengthAdjust="spacing" fontFamily={UI} fontSize={10.5} fill="#C0C0C0">2841.37</text>
            <text x={1069} y={755} textLength={47} lengthAdjust="spacing" fontFamily={UI} fontSize={10.5} fill="#C0C0C0">01-31-30</text>

            {/* price axis */}
            <g shapeRendering="crispEdges">
                <path d="M1231.5 236 V966" stroke="#000" />
                {priceTicks.map((t) => (
                    <g key={t}>
                        <path d={`M1232 ${Math.round(y(t)) + 0.5} h4`} stroke="#000" />
                        <path d={`M1232 ${Math.round(y(t + 97)) + 0.5} h2`} stroke="#000" />
                    </g>
                ))}
            </g>
            {priceTicks.map((t) => {
                const wide = t >= 1000;
                return (
                    <text key={t} x={wide ? 1237 : 1240} y={y(t) + 5} textLength={wide ? 46 : 39} lengthAdjust="spacing" fontFamily={UI} fontSize={13} fill="#000">{t.toFixed(2)}</text>
                );
            })}
            <rect x={1235} y={254} width={49} height={16} fill="#000" />
            <text x={1237} y={267} textLength={45} lengthAdjust="spacing" fontFamily={UI} fontSize={13} fill="#fff">7556.25</text>
            <path d="M1216 261.5 H1220 M1226 261.5 H1231 M1220 261.5 L1226 258 V265 Z" fill="#fff" stroke="#000" />

            {/* year axis */}
            <g shapeRendering="crispEdges">
                <path d="M4 966.5 H1284" stroke="#000" />
                {yearTicks.map((yr) => (
                    <path key={yr} d={`M${x((yr - 2009) * 12)}.5 967 v3`} stroke="#000" />
                ))}
                <path d="M1055.5 967 V998" stroke="#C0C0C0" />
                <rect x={1257} y={969} width={11} height={11} fill="#000" />
                <rect x={1270} y={969} width={12} height={11} fill="#000" />
            </g>
            {yearTicks.map((yr) => (
                <text key={yr} x={x((yr - 2009) * 12)} y={982} textLength={27} lengthAdjust="spacing" fontFamily={UI} fontSize={12.5} fill="#000">{yr}</text>
            ))}
            <text x={1264} y={995} fontFamily={UI} fontSize={10.5} fill="#000">+ES</text>

            {/* taskbar edge */}
            <rect x={0} y={998} width={97} height={2} fill="#3C8A3C" />
            <rect x={97} y={998} width={1191} height={2} fill="#2A70D8" />
        </svg>
    );
}
